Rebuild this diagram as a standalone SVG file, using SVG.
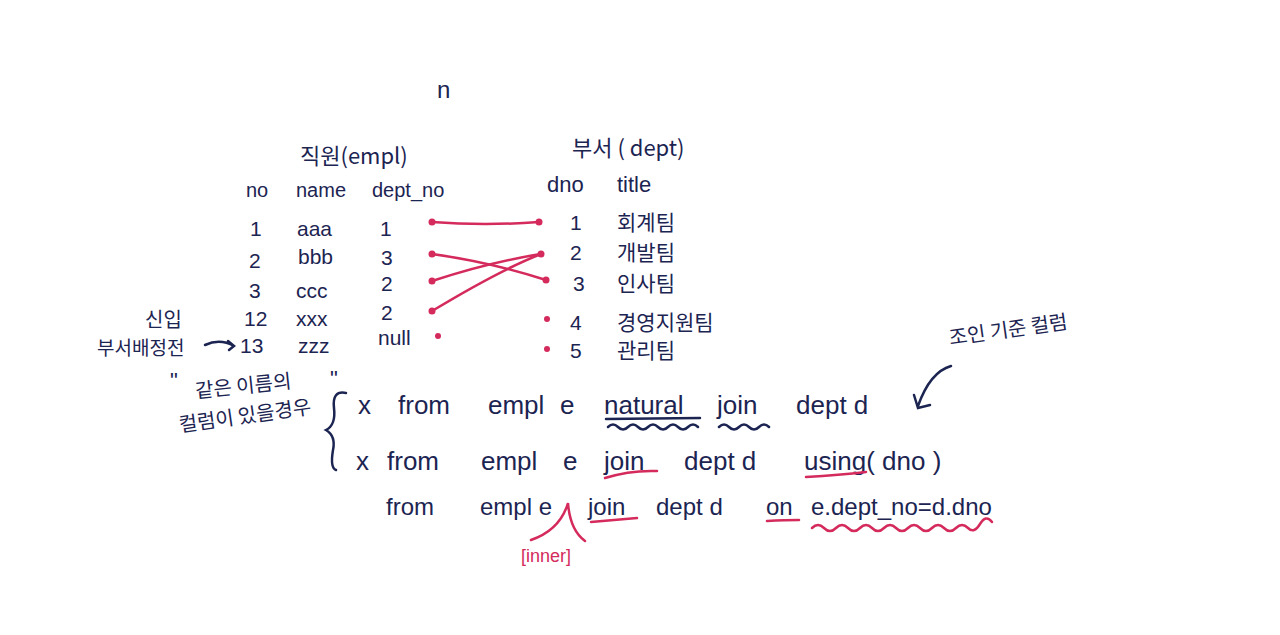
<svg xmlns="http://www.w3.org/2000/svg" width="1280" height="635" viewBox="0 0 1280 635">
<style>
.t{font-family:"Liberation Sans","Noto Sans CJK KR",sans-serif;fill:#1c2452}
.k{font-family:"Noto Sans CJK KR",sans-serif;fill:#1c2452}
.r{fill:#d42a5c}
.rl{stroke:#d42a5c;stroke-width:2.5;fill:none;stroke-linecap:round}
.nl{stroke:#1c2452;stroke-width:2.5;fill:none;stroke-linecap:round}
</style>
<rect width="1280" height="635" fill="#ffffff"/>
<text class="t" x="437" y="98" font-size="24">n</text>

<g id="empl-table">
<text class="k" x="300" y="164" font-size="22">직원(empl)</text>
<text class="t" font-size="20" x="246" y="197">no</text>
<text class="t" font-size="20" x="296" y="197">name</text>
<text class="t" font-size="20" x="372" y="197">dept_no</text>
<g font-size="21" class="t">
<text x="250" y="236">1</text><text x="297" y="236">aaa</text><text x="380" y="236">1</text>
<text x="249" y="268">2</text><text x="298" y="264">bbb</text><text x="381" y="265">3</text>
<text x="249" y="298">3</text><text x="296" y="298">ccc</text><text x="381" y="291">2</text>
<text x="244" y="326">12</text><text x="296" y="326">xxx</text><text x="381" y="320">2</text>
<text x="240" y="353">13</text><text x="298" y="353">zzz</text><text x="378" y="345">null</text>
</g>
</g>

<g id="dept-table">
<text class="k" x="572" y="156" font-size="22">부서 ( dept)</text>
<text class="t" font-size="22" x="547" y="192">dno</text>
<text class="t" font-size="22" x="617" y="192">title</text>
<g font-size="21">
<text class="t" x="570" y="230">1</text><text class="k" x="617" y="230">회계팀</text>
<text class="t" x="570" y="260">2</text><text class="k" x="617" y="260">개발팀</text>
<text class="t" x="573" y="291">3</text><text class="k" x="617" y="291">인사팀</text>
<text class="t" x="570" y="330">4</text><text class="k" x="617" y="330">경영지원팀</text>
<text class="t" x="570" y="358">5</text><text class="k" x="617" y="358">관리팀</text>
</g>
</g>

<g id="connectors">
<path class="rl" d="M432 222 Q485 226 539 222"/>
<path class="rl" d="M432 254 Q490 262 546 280"/>
<path class="rl" d="M432 281 Q490 262 541 254"/>
<path class="rl" d="M432 311 Q500 270 541 254"/>
<g class="r">
<circle cx="432" cy="222" r="3.5"/><circle cx="539" cy="222" r="3.5"/>
<circle cx="432" cy="254" r="3.5"/><circle cx="541" cy="254" r="3.5"/>
<circle cx="432" cy="281" r="3.5"/><circle cx="546" cy="280" r="3.5"/>
<circle cx="432" cy="311" r="3.5"/>
<circle cx="438" cy="336" r="3"/>
<circle cx="547" cy="319" r="3"/>
<circle cx="547" cy="349" r="3"/>
</g>
</g>

<g id="note-new">
<text class="k" x="145" y="327" font-size="20">신입</text>
<text class="k" x="97" y="355" font-size="19">부서배정전</text>
<path class="nl" d="M205 345 Q220 338 234 346 M228 341 L234 346 L229 350" stroke-width="2"/>
</g>

<g id="note-same">
<text class="t" x="170" y="388" font-size="22">"</text>
<text class="k" x="196" y="398" font-size="20" transform="rotate(-6 196 398)">같은 이름의</text>
<text class="k" x="180" y="432" font-size="20" transform="rotate(-8 180 432)">컬럼이 있을경우</text>
<text class="t" x="330" y="386" font-size="22">"</text>
<path class="nl" d="M346 393 Q332 390 334 408 Q336 425 326 430 Q336 436 333 450 Q330 468 336 470"/>
</g>

<g id="sql1" class="t" font-size="26">
<text x="358" y="414">x</text>
<text x="398" y="414">from</text>
<text x="488" y="414">empl</text>
<text x="560" y="414">e</text>
<text x="604" y="414">natural</text>
<text x="717" y="414">join</text>
<text x="796" y="414">dept d</text>
<path class="nl" d="M606 419 L700 418"/>
<path class="nl" d="M608 427 q5 -5 10 0 t10 0 t10 0 t10 0 t10 0 t10 0 t10 0 t10 0 t10 0" stroke-width="2.2"/>
<path class="nl" d="M719 427 q5 -5 10 0 t10 0 t10 0 t10 0 t10 0" stroke-width="2.2"/>
</g>

<g id="sql2" class="t" font-size="26">
<text x="356" y="470">x</text>
<text x="387" y="470">from</text>
<text x="481" y="470">empl</text>
<text x="563" y="470">e</text>
<text x="604" y="470">join</text>
<text x="684" y="470">dept d</text>
<text x="804" y="470">using( dno )</text>
<path class="rl" d="M605 478 Q630 470 657 471"/>
<path class="rl" d="M806 477 Q840 475 866 472"/>
</g>

<g id="sql3" class="t" font-size="24">
<text x="386" y="515">from</text>
<text x="480" y="515">empl e</text>
<text x="588" y="515">join</text>
<text x="656" y="515">dept d</text>
<text x="766" y="515">on</text>
<text x="811" y="515">e.dept_no=d.dno</text>
<path class="rl" d="M591 522 Q615 520 637 518"/>
<path class="rl" d="M767 521 Q785 520 799 520"/>
<path class="rl" d="M812 528 q6 -6 12 0 t12 0 t12 0 t12 0 t12 0 t12 0 t12 0 t12 0 t12 0 t12 0 t12 0 t12 0 t12 0 t12 -4 t12 -2" stroke-width="2.2"/>
</g>

<g id="inner-note">
<path class="rl" d="M531 540 Q560 530 568 503 Q570 530 585 541" stroke-width="2"/>
<text class="r" x="521" y="562" font-size="18" font-family="Liberation Sans, sans-serif">[inner]</text>
</g>

<g id="join-col-note">
<text class="k" x="950" y="345" font-size="20" transform="rotate(-8 950 345)">조인 기준 컬럼</text>
<path class="nl" d="M951 366 Q930 372 918 406 M914 395 L918 408 L930 405" stroke-width="2"/>
</g>
</svg>
